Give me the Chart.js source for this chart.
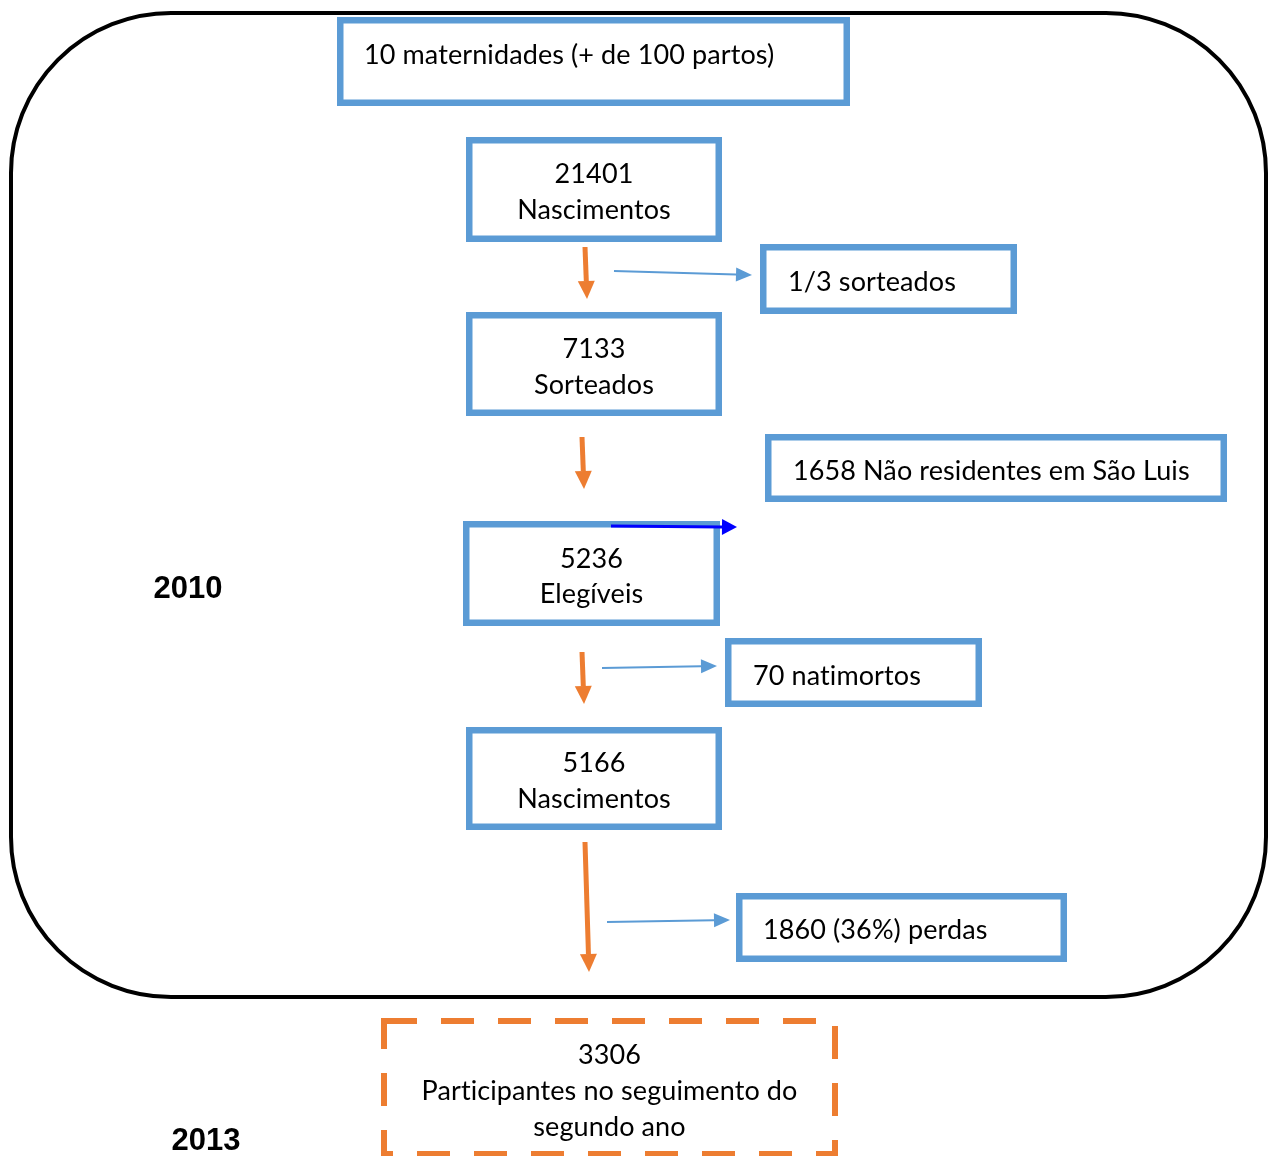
<!DOCTYPE html>
<html>
<head>
<meta charset="utf-8">
<script src="https://cdn.jsdelivr.net/npm/chart.js@4.4.1/dist/chart.umd.min.js"></script>
<style>
  html, body { margin: 0; padding: 0; background: #fff; }
  #wrap { width: 1271px; height: 1156px; }
</style>
</head>
<body>
<div id="wrap"><canvas id="flow" width="1271" height="1156"></canvas></div>
<script>
// Dados do fluxograma
const header = '10 maternidades (+ de 100 partos)';
const stageCounts = [21401, 7133, 5236, 5166, 3306];
const stageLabels = ['Nascimentos', 'Sorteados', 'Elegíveis', 'Nascimentos', 'Participantes no seguimento do|segundo ano'];
const exclusions = ['1/3 sorteados', '1658 Não residentes em São Luis', '70 natimortos', '1860 (36%) perdas'];
const years = ['2010', '2013'];

// Layout (coordenadas em px da figura original)
const frame = { x0: 11, y0: 13, x1: 1266, y1: 997, r: 160 };
const headerBox = [337, 17, 850, 106];
const stageBoxes = [
    [466, 137, 722, 242],
    [466, 312, 722, 416],
    [463, 521, 720, 626],
    [466, 727, 722, 830],
    [381, 1018, 838, 1157]
];
const stageTextY = [[174, 210], [349, 385], [559, 594], [763, 799], [1055, 1091, 1127]];
const exclBoxes = [
    [760, 244, 1017, 314],
    [765, 434, 1227, 502],
    [725, 638, 982, 707],
    [736, 893, 1067, 962]
];
const exclTextX = [788, 793, 753, 763];
const exclTextY = [282, 471, 676, 930];
const downArrows = [[585, 247, 587, 299], [582, 437, 584, 489], [582, 652, 584, 704], [585, 842, 589, 972]];
const sideArrows = [[614, 271, 752, 275], [611, 526, 737, 527], [602, 668, 717, 666], [607, 922, 730, 920]];
const yearPos = [[188, 589], [206, 1141]];

const BLUE = '#5b9bd5';
const ORANGE = '#ed7d31';
const FONT = 'Lato, "Open Sans", sans-serif';

function arrow(ctx, x0, y0, x1, y1, color, lw, headLen, headW) {
    const ang = Math.atan2(y1 - y0, x1 - x0);
    const bx = x1 - Math.cos(ang) * headLen;
    const by = y1 - Math.sin(ang) * headLen;
    ctx.strokeStyle = color;
    ctx.fillStyle = color;
    ctx.lineWidth = lw;
    ctx.beginPath();
    ctx.moveTo(x0, y0);
    ctx.lineTo(bx, by);
    ctx.stroke();
    ctx.beginPath();
    ctx.moveTo(x1, y1);
    ctx.lineTo(bx + Math.sin(ang) * headW / 2, by - Math.cos(ang) * headW / 2);
    ctx.lineTo(bx - Math.sin(ang) * headW / 2, by + Math.cos(ang) * headW / 2);
    ctx.closePath();
    ctx.fill();
}

const flowPlugin = {
    id: 'flow',
    afterDraw(chart) {
        const ctx = chart.ctx;
        const sx = v => chart.scales.x.getPixelForValue(v);
        const sy = v => chart.scales.y.getPixelForValue(v);
        const box = (b, color, lw, dash) => {
            ctx.save();
            ctx.strokeStyle = color;
            ctx.lineWidth = lw;
            ctx.setLineDash(dash || []);
            const x0 = sx(b[0]) + lw / 2, y0 = sy(b[1]) + lw / 2;
            const x1 = sx(b[2]) - lw / 2, y1 = sy(b[3]) - lw / 2;
            ctx.strokeRect(x0, y0, x1 - x0, y1 - y0);
            ctx.restore();
        };

        ctx.save();
        // moldura arredondada
        ctx.strokeStyle = '#000';
        ctx.lineWidth = 4;
        ctx.beginPath();
        ctx.roundRect(sx(frame.x0), sy(frame.y0), sx(frame.x1) - sx(frame.x0), sy(frame.y1) - sy(frame.y0), frame.r);
        ctx.stroke();

        ctx.fillStyle = '#000';
        ctx.textBaseline = 'middle';
        ctx.font = '27px ' + FONT;
        ctx.letterSpacing = '0.1px'; // evita ligaduras "ti"

        // caixa do cabeçalho
        box(headerBox, BLUE, 6.5);
        ctx.fillStyle = '#000';
        ctx.textAlign = 'left';
        ctx.fillText(header, sx(364), sy(55));

        // etapas
        stageCounts.forEach((n, i) => {
            const last = i === stageCounts.length - 1;
            if (last) box(stageBoxes[i], ORANGE, 6, [33, 24]);
            else box(stageBoxes[i], BLUE, 6.5);
            const cx = sx((stageBoxes[i][0] + stageBoxes[i][2]) / 2);
            const lines = [String(n)].concat(stageLabels[i].split('|'));
            ctx.fillStyle = '#000';
            ctx.textAlign = 'center';
            lines.forEach((t, j) => ctx.fillText(t, cx, sy(stageTextY[i][j])));
        });

        // exclusões
        exclusions.forEach((t, i) => {
            box(exclBoxes[i], BLUE, 6.5);
            ctx.fillStyle = '#000';
            ctx.textAlign = 'left';
            ctx.fillText(t, sx(exclTextX[i]), sy(exclTextY[i]));
        });

        // setas
        downArrows.forEach(a => arrow(ctx, sx(a[0]), sy(a[1]), sx(a[2]), sy(a[3]), ORANGE, 5, 18, 17));
        sideArrows.forEach((a, i) => {
            if (i === 1) arrow(ctx, sx(a[0]), sy(a[1]), sx(a[2]), sy(a[3]), '#0000ff', 3, 15, 16);
            else arrow(ctx, sx(a[0]), sy(a[1]), sx(a[2]), sy(a[3]), BLUE, 2, 16, 14);
        });

        // anos
        ctx.letterSpacing = '0px';
        ctx.font = 'bold 31px "Liberation Sans", Arial, sans-serif';
        ctx.textAlign = 'center';
        ctx.fillStyle = '#000';
        years.forEach((y, i) => ctx.fillText(y, sx(yearPos[i][0]), sy(yearPos[i][1])));
        ctx.restore();
    }
};

new Chart(document.getElementById('flow').getContext('2d'), {
    type: 'scatter',
    data: { datasets: [{ data: [], pointRadius: 0 }] },
    options: {
        responsive: false,
        animation: false,
        layout: { padding: 0 },
        plugins: { legend: { display: false }, tooltip: { enabled: false } },
        scales: {
            x: { type: 'linear', min: 0, max: 1271, display: false },
            y: { type: 'linear', min: 0, max: 1156, reverse: true, display: false }
        }
    },
    plugins: [flowPlugin]
});
</script>
</body>
</html>
